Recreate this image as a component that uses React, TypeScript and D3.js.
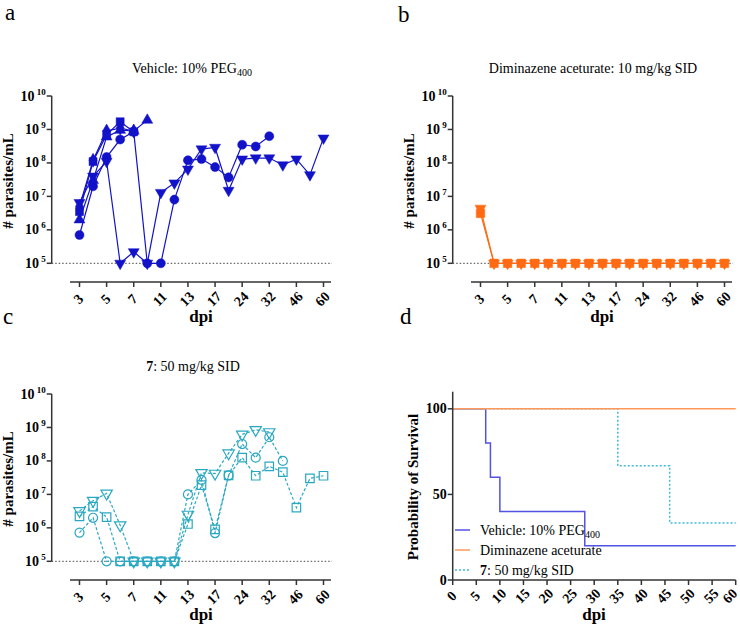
import React, { useEffect, useRef } from "react";
import * as d3 from "d3";

// x categories (days post infection); only every other one is labelled
const dpiCategories = ["3", "4", "5", "6", "7", "9", "11", "12", "13", "15", "17", "20", "24", "28", "32", "39", "46", "53", "60"];
const dpiTickLabels = ["3", "5", "7", "11", "13", "17", "24", "32", "46", "60"];
const logExponents = [5, 6, 7, 8, 9, 10];

// panel a: vehicle, parasites/mL per mouse
const vehicleCircle = [7e5, 2e7, 1.5e8, 5e8, 8.5e8, 1e5, 1e5, 8e6, 1.2e8, 1.3e8, 7.5e7, 3.7e7, 3.5e8, 3.1e8, 6.3e8];
const vehicleTriDown = [6.5e6, 4e7, 1.1e8, 1e5, 2.2e5, 1e5, 1.3e7, 2.5e7, 6.5e7, 2.6e8, 2.9e8, 1.5e7, 1.3e8, 1.4e8, 1.4e8, 8.7e7, 1.3e8, 4.4e7, 5.5e8];
const vehicleSquare = [3.5e6, 1.1e8, 7e8, 1.7e9, 8.5e8];
const vehicleTriUp = [2e6, 3e7, 6e8, 9.5e8, 9e8, 1.9e9];
const vehicleDiamond = [5e6, 1.2e8, 9e8, 1.1e9, 9e8];

// panel b: diminazene aceturate
const dimTriDown = [4.4e6, 1e5, 1e5, 1e5, 1e5, 1e5, 1e5, 1e5, 1e5, 1e5, 1e5, 1e5, 1e5, 1e5, 1e5, 1e5, 1e5, 1e5, 1e5];
const dimSquare = [3.1e6, 1e5, 1e5, 1e5, 1e5, 1e5, 1e5, 1e5, 1e5, 1e5, 1e5, 1e5, 1e5, 1e5, 1e5, 1e5, 1e5, 1e5, 1e5];

// panel c: compound 7
const cmpdCircle = [7.2e5, 2e6, 1e5, 1e5, 1e5, 1e5, 1e5, 1e5, 1e7, 2.7e7, 7e5, 3.7e7, 3.2e8, 1.25e8, 5.1e8, 1e8];
const cmpdSquare = [2.2e6, 4.3e6, 2.1e6, 1e5, 1e5, 1e5, 1e5, 1e5, 1.3e6, 1.9e7, 9e5, 3.7e7, 1.26e8, 3.6e7, 6.9e7, 4.6e7, 4e6, 3e7, 3.6e7];
const cmpdTriDown = [3.2e6, 6.5e6, 1.07e7, 1.2e6, 1e5, 1e5, 1e5, 1e5, 2.5e6, 4.4e7, 4.2e7, 1.7e8, 6.2e8, 8.5e8, 7.3e8];

// panel d: survival
const survTicksX = [0, 5, 10, 15, 20, 25, 30, 35, 40, 45, 50, 55, 60];
const survTicksY = [0, 50, 100];
const vehicleSurvDays = [0, 7, 8, 10, 28, 60];
const vehicleSurvPct = [100, 80, 60, 40, 20, 20];
const dimSurvDays = [0, 60];
const dimSurvPct = [100, 100];
const cmpdSurvDays = [0, 35, 46, 60];
const cmpdSurvPct = [100, 66.7, 33.3, 33.3];

const BLUE = "#1212C8";
const ORANGE = "#FF6A12";
const TEAL = "#2AA8C2";
const AXIS = "#333";
const FONT = "Times New Roman, Liberation Serif, Tinos, DejaVu Serif, serif";

const drawLogPanel = (root, ox, oy, title, series) => {
  const g = root.append("g").attr("transform", `translate(${ox},${oy})`);
  const x = d3.scalePoint().domain(dpiCategories).range([79.5, 323.5]);
  const y = d3.scaleLog().domain([1e5, 1e10]).range([263.3, 96]);
  const axisX = 51.7;
  const axisY = 282;

  g.append("line").attr("x1", axisX).attr("x2", 332).attr("y1", y(1e5)).attr("y2", y(1e5))
    .attr("stroke", "#444").attr("stroke-width", 1).attr("stroke-dasharray", "1.5,2");

  g.append("line").attr("x1", axisX).attr("x2", axisX).attr("y1", y(1e10)).attr("y2", y(1e5))
    .attr("stroke", AXIS).attr("stroke-width", 1.5);
  logExponents.forEach(p => {
    const yy = y(Math.pow(10, p));
    g.append("line").attr("x1", axisX - 5).attr("x2", axisX).attr("y1", yy).attr("y2", yy).attr("stroke", AXIS).attr("stroke-width", 1.5);
    const t = g.append("text").attr("x", axisX - 6).attr("y", yy + 4.5).attr("text-anchor", "end")
      .attr("font-family", FONT).attr("font-weight", "bold").attr("font-size", 14);
    t.append("tspan").text("10");
    t.append("tspan").attr("dy", -6).attr("font-size", 9).text(` ${p}`);
  });

  g.append("line").attr("x1", 70).attr("x2", 331).attr("y1", axisY).attr("y2", axisY).attr("stroke", AXIS).attr("stroke-width", 1.5);
  dpiTickLabels.forEach(lbl => {
    const xx = x(lbl);
    g.append("line").attr("x1", xx).attr("x2", xx).attr("y1", axisY).attr("y2", axisY + 5).attr("stroke", AXIS).attr("stroke-width", 1.5);
    g.append("text").attr("transform", `translate(${xx},${axisY + 18}) rotate(-45)`).attr("text-anchor", "middle")
      .attr("dominant-baseline", "middle").attr("font-family", FONT).attr("font-weight", "bold").attr("font-size", 14).text(lbl);
  });

  g.append("text").attr("x", 201).attr("y", 322).attr("text-anchor", "middle").attr("font-family", FONT)
    .attr("font-weight", "bold").attr("font-size", 17).text("dpi");
  g.append("text").attr("transform", "translate(13,181) rotate(-90)").attr("text-anchor", "middle").attr("font-family", FONT)
    .attr("font-weight", "bold").attr("font-size", 15).text("# parasites/mL");

  title(g);

  series.forEach(s => {
    const pts = s.values.map((v, i) => [x(dpiCategories[i]), y(v)]);
    g.append("path").attr("d", d3.line()(pts)).attr("fill", "none").attr("stroke", s.color)
      .attr("stroke-width", 1.2).attr("stroke-dasharray", s.dash || null);
    g.append("g").selectAll("path").data(pts).join("path")
      .attr("transform", d => `translate(${d[0]},${d[1]}) rotate(${s.flip ? 180 : 0})`)
      .attr("d", d3.symbol(s.symbol, s.size)())
      .attr("fill", s.filled ? s.color : "none").attr("stroke", s.color).attr("stroke-width", s.filled ? 0.5 : 1.2);
  });
};

const drawSurvival = (root) => {
  const g = root.append("g");
  const x = d3.scaleLinear().domain([0, 60]).range([452.7, 735.7]);
  const y = d3.scaleLinear().domain([0, 110]).range([580, 391.7]);

  const stepLine = d3.line().x(d => x(d[0])).y(d => y(d[1])).curve(d3.curveStepAfter);
  const curves = [
    { days: vehicleSurvDays, pct: vehicleSurvPct, color: "#5252E4", dash: null },
    { days: cmpdSurvDays, pct: cmpdSurvPct, color: "#3CBAD2", dash: "2,2" },
    { days: dimSurvDays, pct: dimSurvPct, color: "#FF9858", dash: null }
  ];
  curves.forEach(c => {
    g.append("path").attr("d", stepLine(c.days.map((d, i) => [d, c.pct[i]]))).attr("fill", "none")
      .attr("stroke", c.color).attr("stroke-width", 1.5).attr("stroke-dasharray", c.dash);
  });

  g.append("line").attr("x1", x(0)).attr("x2", x(0)).attr("y1", y(110)).attr("y2", y(0)).attr("stroke", AXIS).attr("stroke-width", 1.5);
  g.append("line").attr("x1", x(0)).attr("x2", x(60)).attr("y1", y(0)).attr("y2", y(0)).attr("stroke", AXIS).attr("stroke-width", 1.5);
  survTicksY.forEach(v => {
    g.append("line").attr("x1", x(0) - 5).attr("x2", x(0)).attr("y1", y(v)).attr("y2", y(v)).attr("stroke", AXIS).attr("stroke-width", 1.5);
    g.append("text").attr("x", x(0) - 6).attr("y", y(v) + 4.5).attr("text-anchor", "end").attr("font-family", FONT)
      .attr("font-weight", "bold").attr("font-size", 14).text(v);
  });
  survTicksX.forEach(v => {
    g.append("line").attr("x1", x(v)).attr("x2", x(v)).attr("y1", y(0)).attr("y2", y(0) + 5).attr("stroke", AXIS).attr("stroke-width", 1.5);
    g.append("text").attr("transform", `translate(${Math.min(x(v), 731)},${y(0) + 17}) rotate(-45)`).attr("text-anchor", "middle")
      .attr("dominant-baseline", "middle").attr("font-family", FONT).attr("font-weight", "bold").attr("font-size", 14).text(v);
  });

  g.append("text").attr("x", 594).attr("y", 620).attr("text-anchor", "middle").attr("font-family", FONT)
    .attr("font-weight", "bold").attr("font-size", 17).text("dpi");
  g.append("text").attr("transform", "translate(418,487) rotate(-90)").attr("text-anchor", "middle").attr("font-family", FONT)
    .attr("font-weight", "bold").attr("font-size", 15).text("Probability of Survival");

  const legend = [
    { color: "#5252E4", dash: null, label: "Vehicle: 10% PEG", sub: "400", bold: "" },
    { color: "#FF9858", dash: null, label: "Diminazene aceturate", sub: "", bold: "" },
    { color: "#3CBAD2", dash: "2,2", label: ": 50 mg/kg SID", sub: "", bold: "7" }
  ];
  legend.forEach((l, i) => {
    const ly = 530 + i * 20;
    g.append("line").attr("x1", 455).attr("x2", 470).attr("y1", ly).attr("y2", ly).attr("stroke", l.color)
      .attr("stroke-width", 1.5).attr("stroke-dasharray", l.dash);
    const t = g.append("text").attr("x", 480).attr("y", ly + 5).attr("font-family", FONT).attr("font-size", 14);
    if (l.bold) t.append("tspan").attr("font-weight", "bold").text(l.bold);
    t.append("tspan").text(l.label);
    if (l.sub) t.append("tspan").attr("dy", 3).attr("font-size", 10).text(l.sub);
  });
};

const App = () => {
  const ref = useRef(null);

  useEffect(() => {
    const svg = d3.select(ref.current);
    svg.selectAll("*").remove();

    const letters = [["a", 5, 20], ["b", 398, 22], ["c", 3, 324], ["d", 400, 324]];
    letters.forEach(([t, lx, ly]) => {
      svg.append("text").attr("x", lx).attr("y", ly).attr("font-family", FONT).attr("font-size", 23).text(t);
    });

    drawLogPanel(svg, 0, 0, g => {
      const t = g.append("text").attr("x", 192).attr("y", 73).attr("text-anchor", "middle").attr("font-family", FONT).attr("font-size", 14);
      t.append("tspan").text("Vehicle: 10% PEG");
      t.append("tspan").attr("dy", 3).attr("font-size", 10).text("400");
    }, [
      { values: vehicleCircle, symbol: d3.symbolCircle, size: 64, filled: true, color: BLUE },
      { values: vehicleTriDown, symbol: d3.symbolTriangle, size: 52, flip: true, filled: true, color: BLUE },
      { values: vehicleTriUp, symbol: d3.symbolTriangle, size: 52, filled: true, color: BLUE },
      { values: vehicleDiamond, symbol: d3.symbolDiamond, size: 56, filled: true, color: BLUE },
      { values: vehicleSquare, symbol: d3.symbolSquare, size: 64, filled: true, color: BLUE }
    ]);

    drawLogPanel(svg, 401, 0, g => {
      g.append("text").attr("x", 192).attr("y", 73).attr("text-anchor", "middle").attr("font-family", FONT)
        .attr("font-size", 14).text("Diminazene aceturate: 10 mg/kg SID");
    }, [
      { values: dimTriDown, symbol: d3.symbolTriangle, size: 52, flip: true, filled: true, color: ORANGE },
      { values: dimSquare, symbol: d3.symbolSquare, size: 72, filled: true, color: ORANGE }
    ]);

    drawLogPanel(svg, 0, 298, g => {
      const t = g.append("text").attr("x", 193).attr("y", 73).attr("text-anchor", "middle").attr("font-family", FONT).attr("font-size", 14);
      t.append("tspan").attr("font-weight", "bold").text("7");
      t.append("tspan").text(": 50 mg/kg SID");
    }, [
      { values: cmpdCircle, symbol: d3.symbolCircle, size: 64, filled: false, color: TEAL, dash: "3,2" },
      { values: cmpdSquare, symbol: d3.symbolSquare, size: 72, filled: false, color: TEAL, dash: "3,2" },
      { values: cmpdTriDown, symbol: d3.symbolTriangle, size: 56, flip: true, filled: false, color: TEAL, dash: "3,2" }
    ]);

    drawSurvival(svg);
  }, []);

  return (
    <svg ref={ref} width={740} height={629} style={{ position: "absolute", left: 0, top: 0, background: "#fff" }}></svg>
  );
};

export default App;
